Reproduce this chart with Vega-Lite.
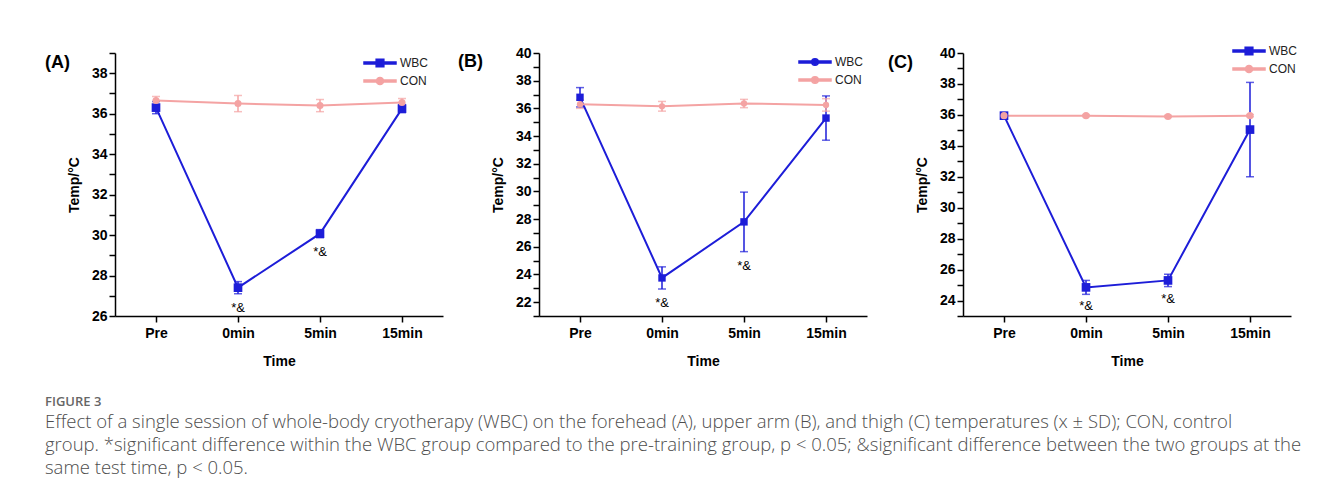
{
  "$schema": "https://vega.github.io/schema/vega-lite/v6.json",
  "padding": {"left": 45, "top": 44, "right": 5, "bottom": 5},
  "datasets": {
    "d": [
      {"panel": "A", "group": "WBC", "time": "Pre", "mean": 36.3, "lo": 36.0, "hi": 36.6, "sig": ""},
      {"panel": "A", "group": "WBC", "time": "0min", "mean": 27.4, "lo": 27.1, "hi": 27.7, "sig": "*&"},
      {"panel": "A", "group": "WBC", "time": "5min", "mean": 30.07, "lo": 29.87, "hi": 30.27, "sig": "*&"},
      {"panel": "A", "group": "WBC", "time": "15min", "mean": 36.25, "lo": 36.05, "hi": 36.45, "sig": ""},
      {"panel": "A", "group": "CON", "time": "Pre", "mean": 36.65, "lo": 36.45, "hi": 36.85, "sig": ""},
      {"panel": "A", "group": "CON", "time": "0min", "mean": 36.5, "lo": 36.1, "hi": 36.9, "sig": ""},
      {"panel": "A", "group": "CON", "time": "5min", "mean": 36.4, "lo": 36.1, "hi": 36.7, "sig": ""},
      {"panel": "A", "group": "CON", "time": "15min", "mean": 36.55, "lo": 36.35, "hi": 36.75, "sig": ""},
      {"panel": "B", "group": "WBC", "time": "Pre", "mean": 36.8, "lo": 36.1, "hi": 37.5, "sig": ""},
      {"panel": "B", "group": "WBC", "time": "0min", "mean": 23.75, "lo": 22.95, "hi": 24.55, "sig": "*&"},
      {"panel": "B", "group": "WBC", "time": "5min", "mean": 27.8, "lo": 25.65, "hi": 29.95, "sig": "*&"},
      {"panel": "B", "group": "WBC", "time": "15min", "mean": 35.3, "lo": 33.7, "hi": 36.9, "sig": ""},
      {"panel": "B", "group": "CON", "time": "Pre", "mean": 36.3, "lo": 36.0, "hi": 36.6, "sig": ""},
      {"panel": "B", "group": "CON", "time": "0min", "mean": 36.15, "lo": 35.8, "hi": 36.5, "sig": ""},
      {"panel": "B", "group": "CON", "time": "5min", "mean": 36.35, "lo": 36.05, "hi": 36.65, "sig": ""},
      {"panel": "B", "group": "CON", "time": "15min", "mean": 36.25, "lo": 35.8, "hi": 36.7, "sig": ""},
      {"panel": "C", "group": "WBC", "time": "Pre", "mean": 35.95, "lo": 35.8, "hi": 36.1, "sig": ""},
      {"panel": "C", "group": "WBC", "time": "0min", "mean": 24.85, "lo": 24.4, "hi": 25.3, "sig": "*&"},
      {"panel": "C", "group": "WBC", "time": "5min", "mean": 25.3, "lo": 24.9, "hi": 25.7, "sig": "*&"},
      {"panel": "C", "group": "WBC", "time": "15min", "mean": 35.05, "lo": 32.0, "hi": 38.1, "sig": ""},
      {"panel": "C", "group": "CON", "time": "Pre", "mean": 35.95, "lo": 35.85, "hi": 36.05, "sig": ""},
      {"panel": "C", "group": "CON", "time": "0min", "mean": 35.95, "lo": 35.88, "hi": 36.02, "sig": ""},
      {"panel": "C", "group": "CON", "time": "5min", "mean": 35.9, "lo": 35.83, "hi": 35.97, "sig": ""},
      {"panel": "C", "group": "CON", "time": "15min", "mean": 35.95, "lo": 35.88, "hi": 36.02, "sig": ""}
    ]
  },
  "data": {"name": "d"},
  "title": {
    "text": "FIGURE 3",
    "subtitle": [
      "Effect of a single session of whole-body cryotherapy (WBC) on the forehead (A), upper arm (B), and thigh (C) temperatures (x ± SD); CON, control",
      "group. *significant difference within the WBC group compared to the pre-training group, p < 0.05; &significant difference between the two groups at the",
      "same test time, p < 0.05."
    ],
    "orient": "bottom",
    "anchor": "start",
    "offset": 28,
    "font": "Open Sans",
    "fontSize": 13,
    "fontWeight": 600,
    "color": "#666666",
    "subtitleFont": "Open Sans",
    "subtitleFontSize": 18.5,
    "subtitleFontWeight": 300,
    "subtitleColor": "#4d4d4d",
    "subtitleLineHeight": 23,
    "subtitlePadding": 4
  },
  "bounds": "flush",
  "spacing": 96,
  "resolve": {"scale": {"color": "independent", "y": "independent"}, "legend": {"color": "independent"}},
  "hconcat": [
    {
      "width": 328, "height": 263,
      "title": {"text": "(A)", "anchor": "start", "frame": "group", "orient": "top", "offset": 0, "dx": -70, "dy": 35, "baseline": "middle", "fontSize": 18, "fontWeight": "bold", "font": "Liberation Sans", "color": "#000000"},
      "transform": [{"filter": "datum.panel === 'A'"}],
      "encoding": {
        "x": {"field": "time", "type": "ordinal", "sort": ["Pre", "0min", "5min", "15min"], "scale": {"type": "point", "padding": 0.5}, "axis": {"title": "Time", "labelAngle": 0, "labelPadding": 4, "titlePadding": 14}},
        "color": {"field": "group", "type": "nominal", "scale": {"domain": ["WBC", "CON"], "range": ["#1d1dd8", "#f4a3a3"]},
          "legend": {"title": null, "orient": "none", "legendX": 258, "legendY": 3, "padding": 0, "rowPadding": 4, "labelFont": "Liberation Sans", "labelFontSize": 12, "labelColor": "#222222", "labelOffset": 13, "symbolSize": 144,
            "symbolType": "M-2.667,-0.16H2.667V0.16H-2.667Z M-0.64,-0.64H0.64V0.64H-0.64Z",
            "encode": {"symbols": {"update": {
              "shape": {"signal": "datum.value === 'WBC' ? 'M-2.667,-0.16H2.667V0.16H-2.667Z M-0.64,-0.64H0.64V0.64H-0.64Z' : 'M-2.667,-0.16H2.667V0.16H-2.667Z M0.6,0A0.6,0.6 0 1 1 -0.6,0A0.6,0.6 0 1 1 0.6,0Z'"},
              "fill": {"signal": "datum.value === 'WBC' ? '#1d1dd8' : '#f4a3a3'"},
              "stroke": {"value": "transparent"},
              "opacity": {"value": 1},
              "size": {"value": 144}}}}}}
      },
      "layer": [
        {"mark": {"type": "rule", "strokeWidth": 1.5}, "encoding": {"y": {"field": "lo", "type": "quantitative", "scale": {"domain": [26, 39], "nice": false, "zero": false},
          "axis": {"title": "Temp/°C", "titlePadding": 10, "tickCount": 50, "format": "d", "values": [26, 27, 28, 29, 30, 31, 32, 33, 34, 35, 36, 37, 38, 39], "labelOverlap": false, "labelExpr": "datum.value % 2 === 0 ? datum.label : ''",
            "encode": {"ticks": {"update": {"x2": {"signal": "datum.value % 2 === 0 ? -6 : -3"}}}}}}, "y2": {"field": "hi"}}},
        {"mark": {"type": "tick", "thickness": 1.5, "size": 8}, "encoding": {"y": {"field": "lo", "type": "quantitative"}}},
        {"mark": {"type": "tick", "thickness": 1.5, "size": 8}, "encoding": {"y": {"field": "hi", "type": "quantitative"}}},
        {"mark": {"type": "line", "strokeWidth": 2}, "encoding": {"y": {"field": "mean", "type": "quantitative"}}},
        {"transform": [{"filter": "datum.group === 'WBC'"}], "mark": {"type": "point", "filled": true, "opacity": 1, "shape": "square", "size": 75}, "encoding": {"y": {"field": "mean", "type": "quantitative"}}},
        {"transform": [{"filter": "datum.group === 'CON'"}], "mark": {"type": "point", "filled": true, "opacity": 1, "shape": "circle", "size": 50}, "encoding": {"y": {"field": "mean", "type": "quantitative"}}},
        {"transform": [{"filter": "datum.sig !== ''"}], "mark": {"type": "text", "baseline": "top", "dy": 8, "fontSize": 13, "font": "Liberation Sans", "color": "#000000"},
          "encoding": {"y": {"field": "lo", "type": "quantitative"}, "text": {"field": "sig"}, "color": {"value": "#000000"}}}
      ]
    },
    {
      "width": 328, "height": 263,
      "title": {"text": "(B)", "anchor": "start", "frame": "group", "orient": "top", "offset": 0, "dx": -81, "dy": 34, "baseline": "middle", "fontSize": 18, "fontWeight": "bold", "font": "Liberation Sans", "color": "#000000"},
      "transform": [{"filter": "datum.panel === 'B'"}],
      "encoding": {
        "x": {"field": "time", "type": "ordinal", "sort": ["Pre", "0min", "5min", "15min"], "scale": {"type": "point", "padding": 0.5}, "axis": {"title": "Time", "labelAngle": 0, "labelPadding": 4, "titlePadding": 14}},
        "color": {"field": "group", "type": "nominal", "scale": {"domain": ["WBC", "CON"], "range": ["#1d1dd8", "#f4a3a3"]},
          "legend": {"title": null, "orient": "none", "legendX": 269, "legendY": 2, "padding": 0, "rowPadding": 4, "labelFont": "Liberation Sans", "labelFontSize": 12, "labelColor": "#222222", "labelOffset": 13, "symbolSize": 144,
            "symbolType": "M-2.667,-0.16H2.667V0.16H-2.667Z M0.55,0A0.55,0.55 0 1 1 -0.55,0A0.55,0.55 0 1 1 0.55,0Z",
            "encode": {"symbols": {"update": {
              "shape": {"value": "M-2.667,-0.16H2.667V0.16H-2.667Z M0.55,0A0.55,0.55 0 1 1 -0.55,0A0.55,0.55 0 1 1 0.55,0Z"},
              "fill": {"signal": "datum.value === 'WBC' ? '#1d1dd8' : '#f4a3a3'"},
              "stroke": {"value": "transparent"},
              "opacity": {"value": 1},
              "size": {"value": 144}}}}}}
      },
      "layer": [
        {"mark": {"type": "rule", "strokeWidth": 1.5}, "encoding": {"y": {"field": "lo", "type": "quantitative", "scale": {"domain": [21, 40], "nice": false, "zero": false},
          "axis": {"title": "Temp/°C", "titlePadding": 10, "tickCount": 50, "format": "d", "values": [21, 22, 23, 24, 25, 26, 27, 28, 29, 30, 31, 32, 33, 34, 35, 36, 37, 38, 39, 40], "labelOverlap": false, "labelExpr": "datum.value % 2 === 0 ? datum.label : ''",
            "encode": {"ticks": {"update": {"x2": {"signal": "datum.value % 2 === 0 ? -6 : -3"}}}}}}, "y2": {"field": "hi"}}},
        {"mark": {"type": "tick", "thickness": 1.5, "size": 8}, "encoding": {"y": {"field": "lo", "type": "quantitative"}}},
        {"mark": {"type": "tick", "thickness": 1.5, "size": 8}, "encoding": {"y": {"field": "hi", "type": "quantitative"}}},
        {"mark": {"type": "line", "strokeWidth": 2}, "encoding": {"y": {"field": "mean", "type": "quantitative"}}},
        {"transform": [{"filter": "datum.group === 'WBC'"}], "mark": {"type": "point", "filled": true, "opacity": 1, "shape": "square", "size": 55}, "encoding": {"y": {"field": "mean", "type": "quantitative"}}},
        {"transform": [{"filter": "datum.group === 'CON'"}], "mark": {"type": "point", "filled": true, "opacity": 1, "shape": "circle", "size": 40}, "encoding": {"y": {"field": "mean", "type": "quantitative"}}},
        {"transform": [{"filter": "datum.sig !== ''"}], "mark": {"type": "text", "baseline": "top", "dy": 8, "fontSize": 13, "font": "Liberation Sans", "color": "#000000"},
          "encoding": {"y": {"field": "lo", "type": "quantitative"}, "text": {"field": "sig"}, "color": {"value": "#000000"}}}
      ]
    },
    {
      "width": 328, "height": 263,
      "title": {"text": "(C)", "anchor": "start", "frame": "group", "orient": "top", "offset": 0, "dx": -75, "dy": 37, "baseline": "middle", "fontSize": 18, "fontWeight": "bold", "font": "Liberation Sans", "color": "#000000"},
      "transform": [{"filter": "datum.panel === 'C'"}],
      "encoding": {
        "x": {"field": "time", "type": "ordinal", "sort": ["Pre", "0min", "5min", "15min"], "scale": {"type": "point", "padding": 0.5}, "axis": {"title": "Time", "labelAngle": 0, "labelPadding": 4, "titlePadding": 14}},
        "color": {"field": "group", "type": "nominal", "scale": {"domain": ["WBC", "CON"], "range": ["#1d1dd8", "#f4a3a3"]},
          "legend": {"title": null, "orient": "none", "legendX": 279, "legendY": -9, "padding": 0, "rowPadding": 4, "labelFont": "Liberation Sans", "labelFontSize": 12, "labelColor": "#222222", "labelOffset": 13, "symbolSize": 144,
            "symbolType": "M-2.667,-0.16H2.667V0.16H-2.667Z M-0.64,-0.64H0.64V0.64H-0.64Z",
            "encode": {"symbols": {"update": {
              "shape": {"signal": "datum.value === 'WBC' ? 'M-2.667,-0.16H2.667V0.16H-2.667Z M-0.64,-0.64H0.64V0.64H-0.64Z' : 'M-2.667,-0.16H2.667V0.16H-2.667Z M0.6,0A0.6,0.6 0 1 1 -0.6,0A0.6,0.6 0 1 1 0.6,0Z'"},
              "fill": {"signal": "datum.value === 'WBC' ? '#1d1dd8' : '#f4a3a3'"},
              "stroke": {"value": "transparent"},
              "opacity": {"value": 1},
              "size": {"value": 144}}}}}}
      },
      "layer": [
        {"mark": {"type": "rule", "strokeWidth": 1.5}, "encoding": {"y": {"field": "lo", "type": "quantitative", "scale": {"domain": [23, 40], "nice": false, "zero": false},
          "axis": {"title": "Temp/°C", "titlePadding": 10, "tickCount": 50, "format": "d", "values": [23, 24, 25, 26, 27, 28, 29, 30, 31, 32, 33, 34, 35, 36, 37, 38, 39, 40], "labelOverlap": false, "labelExpr": "datum.value % 2 === 0 ? datum.label : ''",
            "encode": {"ticks": {"update": {"x2": {"signal": "datum.value % 2 === 0 ? -6 : -3"}}}}}}, "y2": {"field": "hi"}}},
        {"mark": {"type": "tick", "thickness": 1.5, "size": 8}, "encoding": {"y": {"field": "lo", "type": "quantitative"}}},
        {"mark": {"type": "tick", "thickness": 1.5, "size": 8}, "encoding": {"y": {"field": "hi", "type": "quantitative"}}},
        {"mark": {"type": "line", "strokeWidth": 2}, "encoding": {"y": {"field": "mean", "type": "quantitative"}}},
        {"transform": [{"filter": "datum.group === 'WBC'"}], "mark": {"type": "point", "filled": true, "opacity": 1, "shape": "square", "size": 75}, "encoding": {"y": {"field": "mean", "type": "quantitative"}}},
        {"transform": [{"filter": "datum.group === 'CON'"}], "mark": {"type": "point", "filled": true, "opacity": 1, "shape": "circle", "size": 50}, "encoding": {"y": {"field": "mean", "type": "quantitative"}}},
        {"transform": [{"filter": "datum.sig !== ''"}], "mark": {"type": "text", "baseline": "top", "dy": 6, "fontSize": 13, "font": "Liberation Sans", "color": "#000000"},
          "encoding": {"y": {"field": "lo", "type": "quantitative"}, "text": {"field": "sig"}, "color": {"value": "#000000"}}}
      ]
    }
  ],
  "config": {
    "view": {"stroke": null},
    "font": "Liberation Sans",
    "axis": {"domainColor": "#000000", "domainWidth": 1.5, "tickColor": "#000000", "tickWidth": 1.5, "tickSize": 6, "grid": false,
      "labelFont": "Liberation Sans", "labelFontSize": 14, "labelFontWeight": "bold", "labelColor": "#000000",
      "titleFont": "Liberation Sans", "titleFontSize": 14, "titleFontWeight": "bold", "titleColor": "#000000"}
  }
}
